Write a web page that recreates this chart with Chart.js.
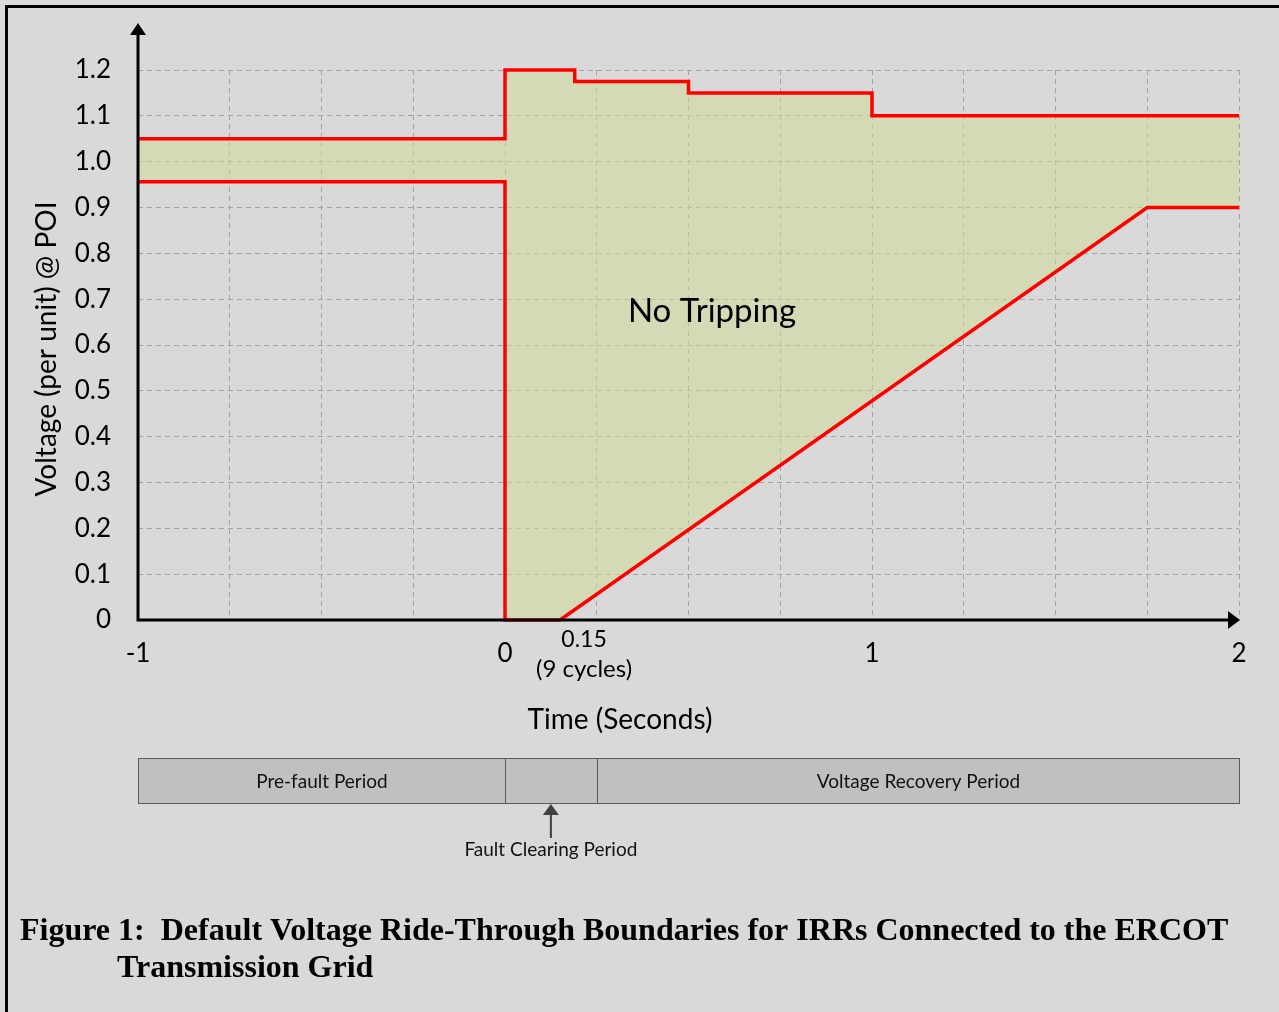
<!DOCTYPE html>
<html>
<head>
<meta charset="utf-8">
<script src="https://cdn.jsdelivr.net/npm/chart.js@4.4.1/dist/chart.umd.min.js"></script>
<style>
  html, body { margin: 0; padding: 0; background: #d9d9d9; }
  canvas { display: block; }
</style>
</head>
<body>
<canvas id="myChart" width="1279" height="1012"></canvas>
<script>
// boundary curves (time in s, voltage in pu)
const upperTime = [-1, 0, 0, 0.19, 0.19, 0.5, 0.5, 1, 1, 2];
const upperVolt = [1.05, 1.05, 1.2, 1.2, 1.175, 1.175, 1.15, 1.15, 1.1, 1.1];
const lowerTime = [-1, 0, 0, 0.15, 1.75, 2];
const lowerVolt = [0.956, 0.956, 0, 0, 0.9, 0.9];

const yTickValues = [0, 0.1, 0.2, 0.3, 0.4, 0.5, 0.6, 0.7, 0.8, 0.9, 1.0, 1.1, 1.2];
const yTickLabels = ["0", "0.1", "0.2", "0.3", "0.4", "0.5", "0.6", "0.7", "0.8", "0.9", "1.0", "1.1", "1.2"];
const xTickValues = [-1, 0, 1, 2];
const xTickLabels = ["-1", "0", "1", "2"];

// period bar under the chart
const periodBounds = [-1, 0, 0.25, 2];
const periodNames = ["Pre-fault Period", "", "Voltage Recovery Period"];

const ctx = document.querySelector("#myChart").getContext("2d");
const font = "Lato";

const toPoints = (xs, ys) => xs.map((x, i) => ({ x: x, y: ys[i] }));

const decorations = {
    id: "decorations",
    beforeDraw(chart) {
        const c = chart.ctx;
        c.save();
        c.fillStyle = "#d9d9d9";
        c.fillRect(0, 0, chart.width, chart.height);
        c.fillStyle = "#000";
        c.fillRect(5, 5, chart.width - 5, 3);
        c.fillRect(5, 5, 3, chart.height - 5);
        c.restore();
    },
    afterDatasetsDraw(chart) {
        const c = chart.ctx;
        const xs = chart.scales.x, ys = chart.scales.y;
        const x0 = xs.getPixelForValue(-1), x1 = xs.getPixelForValue(2);
        const y0 = ys.getPixelForValue(0);
        c.save();

        // axes with arrows
        c.strokeStyle = "#000";
        c.fillStyle = "#000";
        c.lineWidth = 3;
        c.beginPath();
        c.moveTo(x0, y0 + 1.5);
        c.lineTo(x0, 34);
        c.moveTo(x0 - 1.5, y0);
        c.lineTo(x1 - 9, y0);
        c.stroke();
        c.beginPath();
        c.moveTo(x0, 23);
        c.lineTo(x0 - 8, 35);
        c.lineTo(x0 + 8, 35);
        c.closePath();
        c.fill();
        c.beginPath();
        c.moveTo(x1 + 1, y0);
        c.lineTo(x1 - 11, y0 - 9);
        c.lineTo(x1 - 11, y0 + 9);
        c.closePath();
        c.fill();

        // extra tick text
        const xc = xs.getPixelForValue(0.15) + 24;
        c.textAlign = "center";
        c.textBaseline = "middle";
        c.font = "23px " + font;
        c.fillText("0.15", xc, 640);
        c.font = "24px " + font;
        c.fillText("(9 cycles)", xc, 669);

        // region label
        c.font = "33px " + font;
        c.fillText("No Tripping", xs.getPixelForValue(0.564), ys.getPixelForValue(0.674));

        // axis titles
        c.font = "28px " + font;
        c.fillText("Time (Seconds)", 620, 720);
        c.save();
        c.translate(47, 349);
        c.rotate(-Math.PI / 2);
        c.font = "28px " + font;
        c.fillText("Voltage (per unit) @ POI", 0, 0);
        c.restore();

        // period bar
        const top = 758, h = 45;
        c.fillStyle = "#c0c0c0";
        c.fillRect(x0, top, x1 - x0, h);
        c.strokeStyle = "#5a5a5a";
        c.lineWidth = 1;
        for (let i = 0; i < periodNames.length; i++) {
            const a = Math.round(xs.getPixelForValue(periodBounds[i])) + 0.5;
            const b = Math.round(xs.getPixelForValue(periodBounds[i + 1])) + 0.5;
            c.strokeRect(a, top + 0.5, b - a, h);
            if (periodNames[i]) {
                c.fillStyle = "#111";
                c.font = "19px " + font;
                c.fillText(periodNames[i], (a + b) / 2, top + h / 2 + 1);
            }
        }

        // arrow to fault clearing box
        const fx = (xs.getPixelForValue(periodBounds[1]) + xs.getPixelForValue(periodBounds[2])) / 2;
        c.strokeStyle = "#404040";
        c.fillStyle = "#404040";
        c.lineWidth = 2;
        c.beginPath();
        c.moveTo(fx, 838);
        c.lineTo(fx, 814);
        c.stroke();
        c.beginPath();
        c.moveTo(fx, 804);
        c.lineTo(fx - 8, 815);
        c.lineTo(fx + 8, 815);
        c.closePath();
        c.fill();
        c.fillStyle = "#111";
        c.font = "19px " + font;
        c.fillText("Fault Clearing Period", fx, 850);

        // caption
        c.fillStyle = "#000";
        c.textAlign = "left";
        c.textBaseline = "alphabetic";
        c.font = "bold 32px 'Liberation Serif'";
        c.fillText("Figure 1:  Default Voltage Ride-Through Boundaries for IRRs Connected to the ERCOT", 20, 940);
        c.fillText("Transmission Grid", 117, 977);
        c.restore();
    }
};

const data = {
    datasets: [
        {
            label: "Lower boundary",
            data: toPoints(lowerTime, lowerVolt),
            borderColor: "#ff0000",
            borderWidth: 3.5,
            pointRadius: 0,
            fill: false,
            clip: 8,
        },
        {
            label: "Upper boundary",
            data: toPoints(upperTime, upperVolt),
            borderColor: "#ff0000",
            borderWidth: 3.5,
            pointRadius: 0,
            backgroundColor: "rgba(206, 219, 152, 0.55)",
            fill: "-1",
            clip: 8,
        }
    ]
};

const config = {
    type: "line",
    data: data,
    plugins: [decorations],
    options: {
        responsive: false,
        animation: false,
        layout: { padding: { left: 0, right: 40, top: 70, bottom: 0 } },
        plugins: {
            legend: { display: false },
            tooltip: { enabled: false },
        },
        scales: {
            x: {
                type: "linear",
                min: -1,
                max: 2,
                afterFit: (scale) => { scale.height = 392; },
                grid: { color: "#a3a3a3", lineWidth: 1, drawTicks: false },
                border: { display: false, dash: [5, 4] },
                ticks: {
                    stepSize: 0.25,
                    autoSkip: false,
                    maxRotation: 0,
                    padding: 18,
                    color: "#000",
                    font: { family: font, size: 26 },
                    callback: function (value) {
                        const i = xTickValues.findIndex(v => Math.abs(v - value) < 1e-6);
                        return i >= 0 ? xTickLabels[i] : "";
                    }
                }
            },
            y: {
                min: 0,
                max: 1.2,
                afterFit: (scale) => { scale.width = 138; },
                grid: { color: "#a3a3a3", lineWidth: 1, drawTicks: false },
                border: { display: false, dash: [5, 4] },
                ticks: {
                    stepSize: 0.1,
                    padding: 27,
                    color: "#000",
                    font: { family: font, size: 26 },
                    callback: function (value) {
                        const i = yTickValues.findIndex(v => Math.abs(v - value) < 1e-6);
                        return i >= 0 ? yTickLabels[i] : "";
                    }
                }
            }
        }
    }
};

const myChart = new Chart(ctx, config);
</script>
</body>
</html>
